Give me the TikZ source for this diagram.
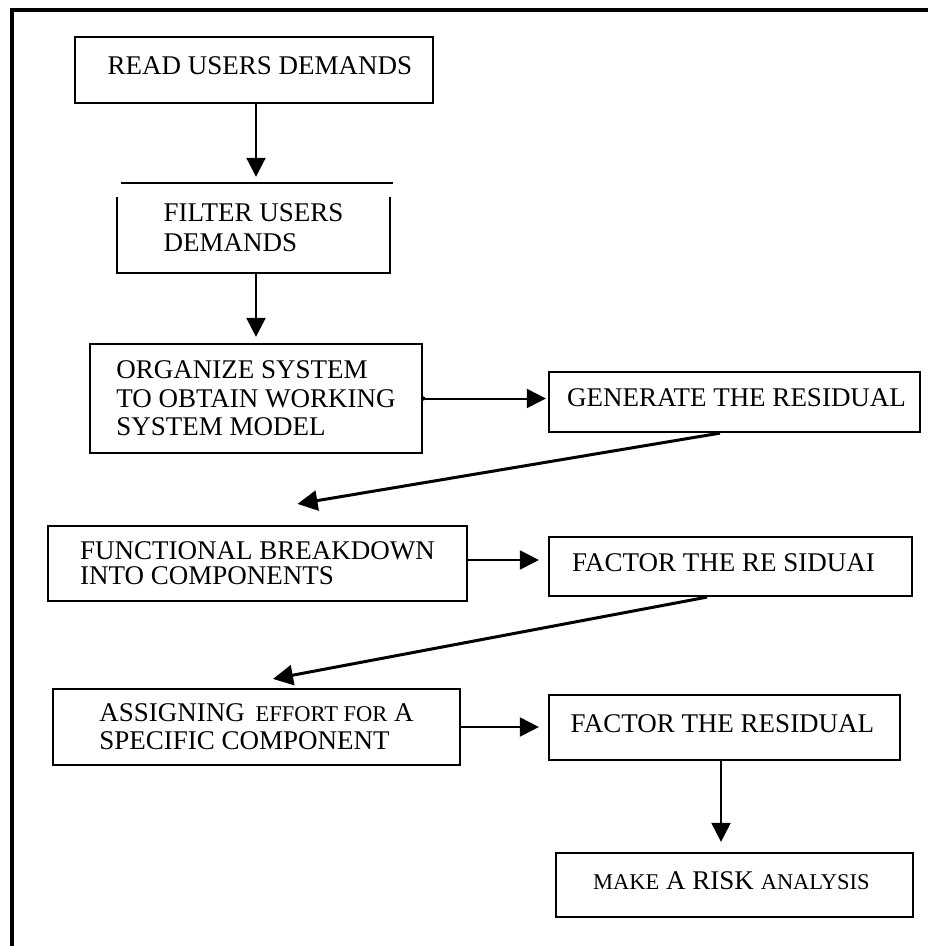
\documentclass[tikz,border=0pt]{standalone}
\usepackage{fontspec}
\setmainfont{Liberation Serif}
\usetikzlibrary{arrows.meta}
\begin{document}
\begin{tikzpicture}[x=1pt,y=-1pt,
  box/.style={draw, line width=2.2pt, inner sep=0pt, font=\fontsize{27}{28}\selectfont},
  one/.style={text depth=8pt},
  arr/.style={line width=2pt, -{Triangle[length=19pt,width=19pt]}},
  darr/.style={line width=3pt, -{Triangle[length=20pt,width=20pt]}},
  sc/.style={}]
\useasboundingbox (0,0) rectangle (928,946);
\draw[line width=3.5pt] (12,946) -- (12,10) -- (928,10);

\node[box,one,minimum width=358pt,minimum height=66pt] (b1) at (254,70) {\hspace*{12pt}READ USERS DEMANDS};

\node[inner sep=0pt, minimum width=273pt, minimum height=90pt, align=left, font=\fontsize{27}{30}\selectfont] (b2) at (253.5,228) {FILTER USERS\\DEMANDS};
\draw[line width=2.2pt] ([yshift=-14pt]b2.north west) -- (b2.south west) -- (b2.south east) -- ([yshift=-14pt]b2.north east);
\draw[line width=2pt] ([xshift=4pt]b2.north west) -- ([xshift=3pt]b2.north east);

\node[box, minimum width=332pt, minimum height=109pt, align=left, font=\fontsize{27}{28.5}\selectfont] (b3) at (256,398.5) {ORGANIZE SYSTEM\\TO OBTAIN WORKING\hspace*{14pt}\\SYSTEM MODEL};

\node[box, one, minimum width=371pt, minimum height=60pt] (b4) at (734.5,402) {\hspace*{4pt}GENERATE THE RESIDUAL};

\node[box, minimum width=419pt, minimum height=75pt, align=left, font=\fontsize{27}{25}\selectfont] (b5) at (257.5,563.5) {FUNCTIONAL BREAKDOWN\\INTO COMPONENTS};

\node[box, one, minimum width=363pt, minimum height=59pt] (b6) at (730.5,566.5) {FACTOR THE RE SIDUAI\hspace*{14pt}};

\node[box, minimum width=407pt, minimum height=76pt, align=left] (b7) at (256.5,727) {ASSIGNING\hspace{4pt} {\fontsize{22.5}{28}\selectfont EFFORT FOR} A\\SPECIFIC COMPONENT};

\node[box, one, minimum width=351pt, minimum height=65pt] (b8) at (724.5,727.5) {FACTOR THE RESIDUAL\hspace*{4pt}};

\node[box, one, minimum width=357pt, minimum height=64pt] (b9) at (734.5,885) {{\fontsize{22.5}{28}\selectfont MAKE} A RISK {\fontsize{22.5}{28}\selectfont ANALYSIS}\hspace*{6pt}};

\draw[arr, shorten >=6pt] ([xshift=2pt]b1.south) -- ([xshift=2.5pt]b2.north);
\draw[arr, shorten >=6pt] ([xshift=2.5pt]b2.south) -- (b3.north);
\fill (b3.east) circle (2.2pt);
\draw[arr, shorten >=2pt] (b3.east) -- (b3.east -| b4.west);
\draw[darr] ([xshift=-14.5pt]b4.south) -- ([xshift=40pt,yshift=21pt]b5.north);
\draw[arr, shorten >=9pt] ([yshift=3.5pt]b5.east) -- ([yshift=3.5pt]b5.east -| b6.west);
\draw[darr] ([xshift=-23.5pt]b6.south) -- ([xshift=16.5pt,yshift=9pt]b7.north);
\draw[arr, shorten >=9pt] (b7.east) -- (b7.east -| b8.west);
\draw[arr, shorten >=10pt] ([xshift=-3.5pt]b8.south) -- ([xshift=-3.5pt]b8.south |- b9.north);
\end{tikzpicture}
\end{document}
